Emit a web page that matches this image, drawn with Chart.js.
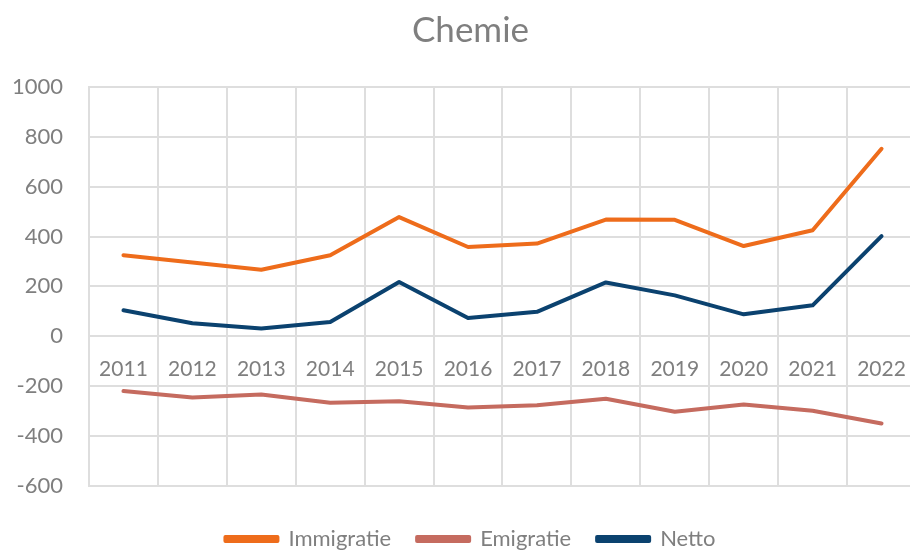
<!DOCTYPE html>
<html>
<head>
<meta charset="utf-8">
<script src="https://cdn.jsdelivr.net/npm/chart.js@4/dist/chart.umd.min.js"></script>
<style>
  html, body { margin: 0; padding: 0; background: #fff; }
  #wrap { width: 910px; height: 550px; overflow: hidden; position: relative; }
  #wrap canvas { position: absolute; left: 0; top: 0; }
</style>
</head>
<body>
<div id="wrap"><canvas id="chart-chemie" width="920" height="560"></canvas></div>
<script>
var years = ['2011', '2012', '2013', '2014', '2015', '2016', '2017', '2018', '2019', '2020', '2021', '2022'];
var immigratie = [325, 296, 267, 325, 478, 358, 372, 468, 467, 362, 425, 752];
var emigratie = [-220, -246, -234, -267, -261, -286, -277, -251, -303, -274, -299, -350];
var netto = [104, 52, 31, 57, 218, 73, 98, 216, 164, 88, 124, 402];
var yTicks = [-600, -400, -200, 0, 200, 400, 600, 800, 1000];

var grey = '#7f7f7f';
var gridColor = '#dedede';

function series(label, data, color) {
  return {
    label: label,
    data: data,
    borderColor: color,
    backgroundColor: color,
    borderWidth: 4,
    pointRadius: 0,
    borderCapStyle: 'round',
    borderJoinStyle: 'round',
    tension: 0
  };
}

// the canvas runs past the right edge of the page, so nudge title and legend
// back to where the page centre is
var nudgeBlocks = {
  id: 'nudgeBlocks',
  afterLayout: function(chart) {
    [chart.titleBlock, chart.legend].forEach(function(box) {
      box.left += 6;
      box.right += 6;
    });
  }
};

var chemieChart = new Chart(document.getElementById('chart-chemie').getContext('2d'), {
  type: 'line',
  data: {
    labels: years,
    datasets: [
      series('Immigratie', immigratie, '#ee6c1b'),
      series('Emigratie', emigratie, '#c56b5f'),
      series('Netto', netto, '#0b426f')
    ]
  },
  options: {
    responsive: false,
    animation: false,
    maintainAspectRatio: false,
    layout: { padding: { left: 13, right: 4, top: 0, bottom: 0 } },
    plugins: {
      title: {
        display: true,
        text: 'Chemie',
        color: grey,
        font: { family: 'Lato', size: 35, weight: 'normal' },
        padding: { top: 10, bottom: 35 }
      },
      legend: {
        position: 'bottom',
        // empty title only to push the legend row down
        title: { display: true, text: '', font: { size: 1 }, padding: { top: 0, bottom: 15 } },
        labels: {
          color: grey,
          font: { family: 'Lato', size: 22 },
          boxWidth: 52,
          boxHeight: 4,
          padding: 26
        }
      },
      tooltip: { enabled: false }
    },
    scales: {
      x: {
        position: { y: 0 },
        offset: true,
        grid: { color: gridColor, lineWidth: 2, offset: true, drawTicks: false },
        border: { display: false },
        ticks: {
          color: grey,
          font: { family: 'Lato', size: 21 },
          padding: 20,
          maxRotation: 0,
          autoSkip: false
        },
        afterFit: function(axis) {
          axis.paddingLeft = 0;
          axis.paddingRight = 0;
        }
      },
      y: {
        min: -600,
        max: 1000,
        afterBuildTicks: function(axis) {
          axis.ticks = yTicks.map(function(v) { return { value: v }; });
        },
        afterFit: function(axis) {
          axis.width = 76;
        },
        grid: { color: gridColor, lineWidth: 2, drawTicks: false },
        border: { color: gridColor, width: 2 },
        ticks: {
          color: grey,
          font: { family: 'Lato', size: 22 },
          padding: 26,
          callback: function(value) { return String(value); }
        }
      }
    }
  },
  plugins: [nudgeBlocks]
});
</script>
</body>
</html>
